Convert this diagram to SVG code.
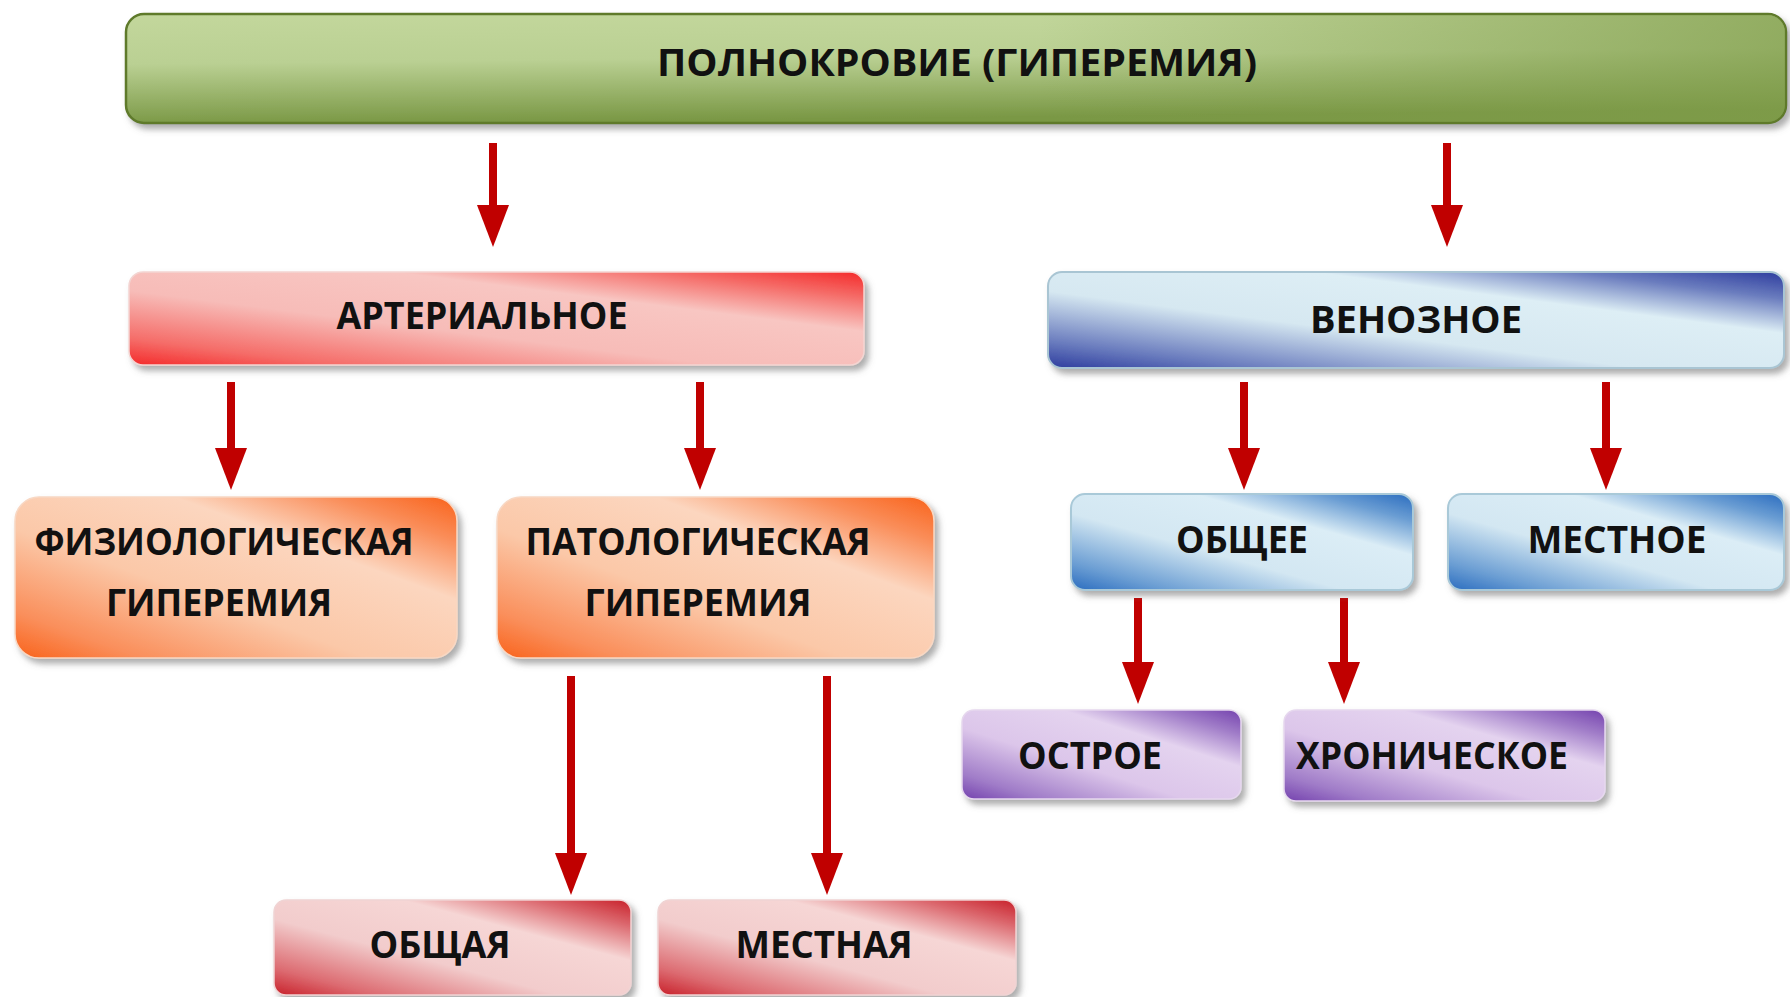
<svg xmlns="http://www.w3.org/2000/svg" width="1790" height="997" viewBox="0 0 1790 997">
<defs>
<style>
.t{font-family:"Open Sans","Liberation Sans",sans-serif;font-weight:700;font-size:37px;fill:#111;text-anchor:middle}
.c{stroke:#c00000;stroke-width:8;fill:none;marker-end:url(#ah)}
.b{filter:url(#sh)}
</style>
<filter id="sh" x="-10%" y="-20%" width="125%" height="150%">
<feDropShadow dx="4" dy="5" stdDeviation="3" flood-color="#6b6b6b" flood-opacity="0.55"/>
</filter>
<marker id="ah" viewBox="0 0 42 32" refX="2" refY="16" markerWidth="42" markerHeight="32" markerUnits="userSpaceOnUse" orient="auto">
<path d="M0,0 L42,16 L0,32 Z" fill="#c00000"/>
</marker>
<linearGradient id="gGreen" x1="0" y1="0" x2="0.15" y2="1">
<stop offset="0" stop-color="#c3d79c"/>
<stop offset="0.45" stop-color="#bad093"/>
<stop offset="1" stop-color="#7a9845"/>
</linearGradient>
<linearGradient id="gGreenR" x1="0" y1="0" x2="1" y2="0">
<stop offset="0.55" stop-color="#7f9c4a" stop-opacity="0"/>
<stop offset="1" stop-color="#7f9c4a" stop-opacity="0.7"/>
</linearGradient>
<linearGradient id="gRed" x1="0" y1="1" x2="1" y2="0">
<stop offset="0" stop-color="#f42a2a"/>
<stop offset="0.14" stop-color="#f56c68"/>
<stop offset="0.4" stop-color="#f7bcb8"/>
<stop offset="0.68" stop-color="#f8c6c2"/>
<stop offset="0.86" stop-color="#f56c68"/>
<stop offset="1" stop-color="#f42a2a"/>
</linearGradient>
<linearGradient id="gOrange" x1="0" y1="1" x2="1" y2="0">
<stop offset="0" stop-color="#f9621a"/>
<stop offset="0.14" stop-color="#fa8e5a"/>
<stop offset="0.4" stop-color="#fbc8a8"/>
<stop offset="0.68" stop-color="#fcd6bf"/>
<stop offset="0.86" stop-color="#fa8e5a"/>
<stop offset="1" stop-color="#f9621a"/>
</linearGradient>
<linearGradient id="gBlueD" x1="0" y1="1" x2="1" y2="0">
<stop offset="0" stop-color="#2d3c9e"/>
<stop offset="0.14" stop-color="#6a7cbe"/>
<stop offset="0.4" stop-color="#d6e8f1"/>
<stop offset="0.68" stop-color="#ddeef5"/>
<stop offset="0.86" stop-color="#6a7cbe"/>
<stop offset="1" stop-color="#2d3c9e"/>
</linearGradient>
<linearGradient id="gBlue" x1="0" y1="1" x2="1" y2="0">
<stop offset="0" stop-color="#2a6cbf"/>
<stop offset="0.14" stop-color="#6a9dd3"/>
<stop offset="0.4" stop-color="#d3e7f2"/>
<stop offset="0.68" stop-color="#dbedf6"/>
<stop offset="0.86" stop-color="#6a9dd3"/>
<stop offset="1" stop-color="#2a6cbf"/>
</linearGradient>
<linearGradient id="gPurple" x1="0" y1="1" x2="1" y2="0">
<stop offset="0" stop-color="#7442ae"/>
<stop offset="0.14" stop-color="#a07cc8"/>
<stop offset="0.4" stop-color="#dcc6ea"/>
<stop offset="0.68" stop-color="#e4d3ef"/>
<stop offset="0.86" stop-color="#a07cc8"/>
<stop offset="1" stop-color="#7442ae"/>
</linearGradient>
<linearGradient id="gRose" x1="0" y1="1" x2="1" y2="0">
<stop offset="0" stop-color="#c8202a"/>
<stop offset="0.14" stop-color="#dc6a70"/>
<stop offset="0.4" stop-color="#f2cccc"/>
<stop offset="0.68" stop-color="#f6d6d5"/>
<stop offset="0.86" stop-color="#dc6a70"/>
<stop offset="1" stop-color="#c8202a"/>
</linearGradient>
</defs>
<rect width="1790" height="997" fill="#ffffff"/>

<g id="connectors">
<line class="c" x1="493" y1="143" x2="493" y2="207"/>
<line class="c" x1="1447" y1="143" x2="1447" y2="207"/>
<line class="c" x1="231" y1="382" x2="231" y2="450"/>
<line class="c" x1="700" y1="382" x2="700" y2="450"/>
<line class="c" x1="1244" y1="382" x2="1244" y2="450"/>
<line class="c" x1="1606" y1="382" x2="1606" y2="450"/>
<line class="c" x1="1138" y1="598" x2="1138" y2="664"/>
<line class="c" x1="1344" y1="598" x2="1344" y2="664"/>
<line class="c" x1="571" y1="676" x2="571" y2="855"/>
<line class="c" x1="827" y1="676" x2="827" y2="855"/>
</g>

<g id="n-root">
<rect class="b" x="126" y="14" width="1660" height="109" rx="18" fill="url(#gGreen)" stroke="#5e7a2c" stroke-width="2.5"/>
<rect x="127" y="15" width="1658" height="107" rx="17" fill="url(#gGreenR)"/>
<text class="t" x="957" y="76" textLength="600" lengthAdjust="spacingAndGlyphs">ПОЛНОКРОВИЕ (ГИПЕРЕМИЯ)</text>
</g>

<g id="n-arterial">
<rect class="b" x="129" y="272" width="735" height="93" rx="14" fill="url(#gRed)" stroke="#f3d5d2" stroke-width="1.5"/>
<text class="t" x="482" y="329" textLength="291" lengthAdjust="spacingAndGlyphs">АРТЕРИАЛЬНОЕ</text>
</g>

<g id="n-venous">
<rect class="b" x="1048" y="272" width="736" height="96" rx="14" fill="url(#gBlueD)" stroke="#a9c5d3" stroke-width="2"/>
<text class="t" x="1416" y="333" textLength="212" lengthAdjust="spacingAndGlyphs">ВЕНОЗНОЕ</text>
</g>

<g id="n-physio">
<rect class="b" x="15" y="497" width="442" height="161" rx="24" fill="url(#gOrange)" stroke="#f8d8c4" stroke-width="1.5"/>
<text class="t" x="224" y="555" textLength="379" lengthAdjust="spacingAndGlyphs">ФИЗИОЛОГИЧЕСКАЯ</text>
<text class="t" x="219" y="616" textLength="226" lengthAdjust="spacingAndGlyphs">ГИПЕРЕМИЯ</text>
</g>

<g id="n-patho">
<rect class="b" x="497" y="497" width="437" height="161" rx="24" fill="url(#gOrange)" stroke="#f8d8c4" stroke-width="1.5"/>
<text class="t" x="698" y="555" textLength="345" lengthAdjust="spacingAndGlyphs">ПАТОЛОГИЧЕСКАЯ</text>
<text class="t" x="698" y="616" textLength="227" lengthAdjust="spacingAndGlyphs">ГИПЕРЕМИЯ</text>
</g>

<g id="n-general-v">
<rect class="b" x="1071" y="494" width="342" height="96" rx="14" fill="url(#gBlue)" stroke="#a9c9d8" stroke-width="2"/>
<text class="t" x="1242" y="553" textLength="132" lengthAdjust="spacingAndGlyphs">ОБЩЕЕ</text>
</g>

<g id="n-local-v">
<rect class="b" x="1448" y="494" width="336" height="96" rx="14" fill="url(#gBlue)" stroke="#a9c9d8" stroke-width="2"/>
<text class="t" x="1617" y="553" textLength="179" lengthAdjust="spacingAndGlyphs">МЕСТНОЕ</text>
</g>

<g id="n-acute">
<rect class="b" x="962" y="710" width="279" height="89" rx="12" fill="url(#gPurple)" stroke="#e6d8ee" stroke-width="1.5"/>
<text class="t" x="1090" y="769" textLength="144" lengthAdjust="spacingAndGlyphs">ОСТРОЕ</text>
</g>

<g id="n-chronic">
<rect class="b" x="1284" y="710" width="321" height="91" rx="12" fill="url(#gPurple)" stroke="#e6d8ee" stroke-width="1.5"/>
<text class="t" x="1432" y="769" textLength="272" lengthAdjust="spacingAndGlyphs">ХРОНИЧЕСКОЕ</text>
</g>

<g id="n-general-a">
<rect class="b" x="274" y="900" width="357" height="95" rx="12" fill="url(#gRose)" stroke="#f0d4d4" stroke-width="1.5"/>
<text class="t" x="440" y="958" textLength="141" lengthAdjust="spacingAndGlyphs">ОБЩАЯ</text>
</g>

<g id="n-local-a">
<rect class="b" x="658" y="900" width="358" height="95" rx="12" fill="url(#gRose)" stroke="#f0d4d4" stroke-width="1.5"/>
<text class="t" x="824" y="958" textLength="177" lengthAdjust="spacingAndGlyphs">МЕСТНАЯ</text>
</g>
</svg>
